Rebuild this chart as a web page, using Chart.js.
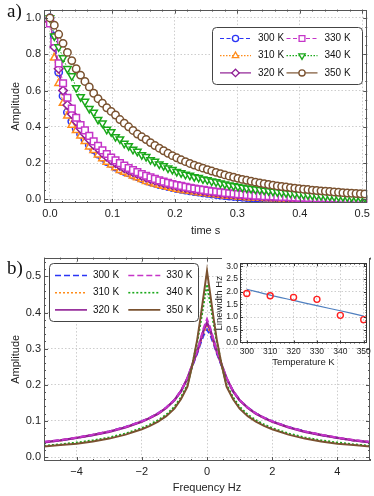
<!DOCTYPE html>
<html>
<head>
<meta charset="utf-8">
<script src="https://cdn.jsdelivr.net/npm/chart.js@4.4.1/dist/chart.umd.min.js"></script>
<style>
  html, body { margin: 0; padding: 0; background: #fff; overflow: hidden; }
  #wrap { position: relative; width: 374px; height: 496px; }
  canvas { position: absolute; }
  .tag { position: absolute; font-family: "Liberation Serif", "DejaVu Serif", serif; font-size: 19px; line-height: 1; color: #111; }
</style>
</head>
<body>
<div id="wrap">
  <canvas id="chartDecay" width="374" height="240" style="left:0;top:0"></canvas>
  <canvas id="chartSpectrum" width="374" height="248" style="left:0;top:248px"></canvas>
  <canvas id="chartLinewidth" width="166" height="116" style="left:208px;top:256px"></canvas>
  <div class="tag" style="left:7px;top:1px">a)</div>
  <div class="tag" style="left:7px;top:258px">b)</div>
</div>
<script>
// ---- panel a: time-domain decay ----
const times = [
  0, 0.007, 0.014, 0.021, 0.028, 0.035, 0.042, 0.049, 0.056, 0.063,
  0.07, 0.077, 0.084, 0.091, 0.098, 0.105, 0.112, 0.119, 0.126, 0.133,
  0.14, 0.147, 0.154, 0.161, 0.168, 0.175, 0.182, 0.189, 0.196, 0.203,
  0.21, 0.217, 0.224, 0.231, 0.238, 0.245, 0.252, 0.259, 0.266, 0.273,
  0.28, 0.287, 0.294, 0.301, 0.308, 0.315, 0.322, 0.329, 0.336, 0.343,
  0.35, 0.357, 0.364, 0.371, 0.378, 0.385, 0.392, 0.399, 0.406, 0.413,
  0.42, 0.427, 0.434, 0.441, 0.448, 0.455, 0.462, 0.469, 0.476, 0.483,
  0.49, 0.497, 0.504
];
const decay300 = [
  1.00, 0.90, 0.70, 0.57, 0.48, 0.43, 0.39, 0.36, 0.33, 0.30,
  0.275, 0.25, 0.232, 0.208, 0.197, 0.178, 0.166, 0.154, 0.146, 0.134,
  0.125, 0.115, 0.105, 0.096, 0.089, 0.082, 0.076, 0.070, 0.065, 0.060,
  0.055, 0.051, 0.047, 0.043, 0.040, 0.036, 0.033, 0.030, 0.027, 0.024,
  0.021, 0.018, 0.016, 0.014, 0.012, 0.010, 0.009, 0.008, 0.006, 0.005,
  0.004, 0.003, 0.003, 0.002, 0.002, 0.001, 0.001, 0.001, 0, 0,
  0, 0, 0, 0, 0, 0, 0, 0, 0, 0,
  0, 0, 0
];
const decay310 = [
  0.99, 0.78, 0.64, 0.53, 0.46, 0.41, 0.38, 0.35, 0.32, 0.29,
  0.27, 0.245, 0.225, 0.205, 0.19, 0.175, 0.16, 0.15, 0.14, 0.13,
  0.12, 0.11, 0.10, 0.093, 0.086, 0.079, 0.073, 0.067, 0.062, 0.057,
  0.053, 0.049, 0.045, 0.041, 0.038, 0.035, 0.032, 0.029, 0.026, 0.023,
  0.020, 0.018, 0.016, 0.014, 0.012, 0.010, 0.009, 0.008, 0.007, 0.006,
  0.005, 0.004, 0.004, 0.003, 0.003, 0.002, 0.002, 0.002, 0.001, 0.001,
  0.001, 0.001, 0, 0, 0, 0, 0, 0, 0, 0,
  0, 0, 0
];
const decay320 = [
  0.98, 0.84, 0.72, 0.60, 0.52, 0.47, 0.43, 0.39, 0.36, 0.33,
  0.30, 0.28, 0.255, 0.235, 0.215, 0.20, 0.185, 0.172, 0.16, 0.15,
  0.14, 0.13, 0.12, 0.112, 0.104, 0.097, 0.090, 0.084, 0.078, 0.073,
  0.068, 0.063, 0.059, 0.055, 0.051, 0.047, 0.044, 0.041, 0.038, 0.035,
  0.032, 0.030, 0.028, 0.026, 0.024, 0.022, 0.020, 0.019, 0.017, 0.016,
  0.015, 0.014, 0.013, 0.012, 0.011, 0.010, 0.009, 0.008, 0.008, 0.007,
  0.006, 0.006, 0.005, 0.004, 0.004, 0.003, 0.003, 0.002, 0.002, 0.002,
  0.001, 0.001, 0.001
];
const decay330 = [
  0.97, 0.87, 0.75, 0.64, 0.56, 0.50, 0.45, 0.41, 0.38, 0.35,
  0.32, 0.295, 0.27, 0.25, 0.23, 0.215, 0.20, 0.186, 0.173, 0.161,
  0.150, 0.140, 0.130, 0.121, 0.113, 0.105, 0.098, 0.091, 0.085, 0.079,
  0.074, 0.069, 0.064, 0.060, 0.056, 0.052, 0.048, 0.045, 0.042, 0.039,
  0.036, 0.034, 0.031, 0.029, 0.027, 0.025, 0.023, 0.021, 0.020, 0.018,
  0.017, 0.016, 0.015, 0.014, 0.013, 0.012, 0.011, 0.010, 0.009, 0.008,
  0.008, 0.007, 0.006, 0.006, 0.005, 0.005, 0.004, 0.004, 0.003, 0.003,
  0.003, 0.002, 0.002
];
const decay340 = [
  1.00, 0.90, 0.84, 0.78, 0.72, 0.68, 0.615, 0.565, 0.54, 0.50,
  0.48, 0.44, 0.42, 0.385, 0.372, 0.345, 0.332, 0.308, 0.295, 0.275,
  0.264, 0.245, 0.235, 0.218, 0.209, 0.194, 0.185, 0.172, 0.164, 0.153,
  0.146, 0.137, 0.132, 0.124, 0.120, 0.112, 0.108, 0.100, 0.096, 0.089,
  0.084, 0.079, 0.074, 0.070, 0.066, 0.062, 0.059, 0.056, 0.053, 0.050,
  0.047, 0.044, 0.041, 0.039, 0.036, 0.034, 0.031, 0.029, 0.027, 0.025,
  0.023, 0.021, 0.020, 0.018, 0.017, 0.016, 0.015, 0.014, 0.013, 0.012,
  0.011, 0.010, 0.009
];
const decay350 = [
  1.00, 0.96, 0.91, 0.86, 0.81, 0.765, 0.72, 0.685, 0.65, 0.62,
  0.585, 0.555, 0.53, 0.505, 0.485, 0.465, 0.44, 0.42, 0.40, 0.38,
  0.36, 0.345, 0.33, 0.313, 0.297, 0.282, 0.268, 0.254, 0.241, 0.229,
  0.218, 0.208, 0.198, 0.189, 0.180, 0.172, 0.164, 0.156, 0.149, 0.142,
  0.135, 0.128, 0.122, 0.116, 0.110, 0.105, 0.100, 0.095, 0.090, 0.086,
  0.082, 0.078, 0.074, 0.071, 0.068, 0.065, 0.062, 0.059, 0.056, 0.054,
  0.051, 0.049, 0.047, 0.045, 0.043, 0.041, 0.039, 0.037, 0.035, 0.034,
  0.032, 0.031, 0.030
];

// ---- panel b: spectra ----
const freqs = [-5, -4.5, -4, -3.5, -3, -2.5, -2, -1.75, -1.5, -1.25, -1, -0.8, -0.6, -0.45, -0.3, -0.2, -0.1,
  0, 0.1, 0.2, 0.3, 0.45, 0.6, 0.8, 1, 1.25, 1.5, 1.75, 2, 2.5, 3, 3.5, 4, 4.5, 5];
const freqTicks = [-4, -2, 0, 2, 4];
const spec300 = [0.041, 0.046, 0.053, 0.061, 0.071, 0.083, 0.099, 0.109, 0.121, 0.137, 0.158, 0.183, 0.217, 0.252, 0.287, 0.314, 0.338,
  0.353, 0.338, 0.314, 0.287, 0.252, 0.217, 0.183, 0.158, 0.137, 0.121, 0.109, 0.099, 0.083, 0.071, 0.061, 0.053, 0.046, 0.041];
const spec310 = [0.041, 0.046, 0.053, 0.061, 0.070, 0.082, 0.098, 0.108, 0.120, 0.136, 0.157, 0.182, 0.218, 0.254, 0.290, 0.318, 0.345,
  0.362, 0.345, 0.318, 0.290, 0.254, 0.218, 0.182, 0.157, 0.136, 0.120, 0.108, 0.098, 0.082, 0.070, 0.061, 0.053, 0.046, 0.041];
const spec320 = [0.041, 0.046, 0.053, 0.061, 0.070, 0.082, 0.098, 0.108, 0.120, 0.136, 0.157, 0.182, 0.218, 0.255, 0.292, 0.322, 0.352,
  0.372, 0.352, 0.322, 0.292, 0.255, 0.218, 0.182, 0.157, 0.136, 0.120, 0.108, 0.098, 0.082, 0.070, 0.061, 0.053, 0.046, 0.041];
const spec330 = [0.042, 0.047, 0.054, 0.062, 0.071, 0.083, 0.099, 0.109, 0.121, 0.137, 0.158, 0.183, 0.219, 0.256, 0.294, 0.326, 0.358,
  0.382, 0.358, 0.326, 0.294, 0.256, 0.219, 0.183, 0.158, 0.137, 0.121, 0.109, 0.099, 0.083, 0.071, 0.062, 0.054, 0.047, 0.042];
const spec340 = [0.031, 0.035, 0.040, 0.046, 0.054, 0.065, 0.080, 0.090, 0.102, 0.117, 0.139, 0.165, 0.200, 0.255, 0.318, 0.370, 0.425,
  0.478, 0.425, 0.370, 0.318, 0.255, 0.200, 0.165, 0.139, 0.117, 0.102, 0.090, 0.080, 0.065, 0.054, 0.046, 0.040, 0.035, 0.031];
const spec350 = [0.029, 0.033, 0.037, 0.043, 0.051, 0.062, 0.077, 0.086, 0.098, 0.113, 0.134, 0.160, 0.195, 0.255, 0.325, 0.385, 0.450,
  0.515, 0.450, 0.385, 0.325, 0.255, 0.195, 0.160, 0.134, 0.113, 0.098, 0.086, 0.077, 0.062, 0.051, 0.043, 0.037, 0.033, 0.029];

// ---- inset: linewidth vs temperature ----
const temps = [300, 310, 320, 330, 340, 350];
const linewidths = [1.93, 1.84, 1.78, 1.70, 1.07, 0.90];
const linewidthFit = [2.10, 1.87, 1.66, 1.45, 1.25, 1.04];

const labels = ['300 K', '310 K', '320 K', '330 K', '340 K', '350 K'];
const colors = ['#2b35f5', '#ff8c1a', '#8e1d93', '#c535c8', '#1aa81a', '#7a5230'];

const FONT = '"Liberation Sans", Arial, sans-serif';
const pts = (xs, ys) => xs.map((x, i) => ({ x: x, y: ys[i] }));
const fmt1 = v => (Math.abs(v) < 1e-9 ? 0 : v).toFixed(1);
const fmtInt = v => (Math.abs(v) < 1e-9 ? '0' : (v < 0 ? '\u2212' + Math.abs(v) : String(v)));

// inner frame ticks like a framed plot
const frameTicks = {
  id: 'frameTicks',
  afterDatasetsDraw(chart, args, o) {
    const { ctx, chartArea: a, scales } = chart;
    ctx.save();
    ctx.strokeStyle = o.color;
    ctx.lineWidth = 1;
    const marks = (scale, step, major, horiz) => {
      const first = Math.ceil(scale.min / step - 1e-9);
      for (let k = first; k * step <= scale.max + 1e-9; k++) {
        const v = k * step;
        const isMajor = Math.abs(v / major - Math.round(v / major)) < 1e-6;
        const len = isMajor ? o.major : o.minor;
        const p = Math.round(scale.getPixelForValue(v)) + 0.5;
        ctx.beginPath();
        if (horiz) {
          ctx.moveTo(p, a.bottom); ctx.lineTo(p, a.bottom - len);
          ctx.moveTo(p, a.top); ctx.lineTo(p, a.top + len);
        } else {
          ctx.moveTo(a.left, p); ctx.lineTo(a.left + len, p);
          ctx.moveTo(a.right, p); ctx.lineTo(a.right - len, p);
        }
        ctx.stroke();
      }
    };
    marks(scales.x, o.xMinor, o.xMajor, true);
    marks(scales.y, o.yMinor, o.yMajor, false);
    ctx.strokeRect(Math.round(a.left) + 0.5, Math.round(a.top) + 0.5,
      Math.round(a.right - a.left) - 1, Math.round(a.bottom - a.top) - 1);
    ctx.restore();
  }
};

// two-column framed legend
const boxLegend = {
  id: 'boxLegend',
  afterDraw(chart, args, o) {
    if (!o || !o.w) return;
    const ctx = chart.ctx;
    ctx.save();
    ctx.beginPath();
    if (ctx.roundRect) ctx.roundRect(o.x + 0.5, o.y + 0.5, o.w, o.h, 4);
    else ctx.rect(o.x + 0.5, o.y + 0.5, o.w, o.h);
    ctx.fillStyle = '#fff';
    ctx.fill();
    ctx.lineWidth = 1;
    ctx.strokeStyle = '#444';
    ctx.stroke();
    chart.data.datasets.forEach((ds, i) => {
      const col = Math.floor(i / o.rows), row = i % o.rows;
      const x0 = o.x + o.padX + col * o.colW;
      const y = o.y + o.padY + row * o.rowH;
      ctx.setLineDash(ds.borderDash || []);
      ctx.strokeStyle = ds.borderColor;
      ctx.lineWidth = o.lineWidth || ds.borderWidth;
      ctx.beginPath();
      ctx.moveTo(x0, y);
      ctx.lineTo(x0 + o.lineW, y);
      ctx.stroke();
      ctx.setLineDash([]);
      if (o.markers && Chart.helpers && Chart.helpers.drawPoint) {
        ctx.fillStyle = '#fff';
        ctx.strokeStyle = ds.borderColor;
        ctx.lineWidth = 1.3;
        Chart.helpers.drawPoint(ctx, {
          pointStyle: ds.pointStyle, radius: ds.pointRadius - 0.6,
          rotation: ds.pointRotation || 0, borderWidth: 1.3
        }, x0 + o.lineW / 2, y);
      }
      ctx.fillStyle = '#111';
      ctx.font = o.font;
      ctx.textBaseline = 'middle';
      ctx.textAlign = 'left';
      ctx.fillText(ds.label, x0 + o.lineW + o.gap, y);
    });
    ctx.restore();
  }
};

// white backing for the inset
const insetBg = {
  id: 'insetBg',
  beforeDraw(chart, args, o) {
    const { ctx, chartArea: a } = chart;
    ctx.save();
    ctx.fillStyle = '#fff';
    ctx.fillRect(o.left, 0, a.right + 2 - o.left, a.bottom + 1);
    ctx.restore();
  }
};

function axisStyle(size, step, pad, cb) {
  return {
    ticks: { stepSize: step, includeBounds: false, padding: pad, maxRotation: 0, autoSkip: false,
      color: '#222', font: { family: FONT, size: size }, callback: cb },
    grid: { color: '#cdcdcd', lineWidth: 1, drawTicks: false },
    border: { display: false, dash: [1.5, 2] }
  };
}

// ---- chart a ----
const decaySets = [decay300, decay310, decay320, decay330, decay340, decay350];
const markerStyle = ['circle', 'triangle', 'rectRot', 'rect', 'triangle', 'circle'];
const markerRot = [0, 0, 0, 0, 180, 0];
const markerSize = [3.7, 4.3, 4.3, 4.7, 4.3, 3.7];
const dashA = [[4, 2.5], [1.5, 1.5], [], [4, 2.5], [1.5, 1.5], []];

new Chart(document.getElementById('chartDecay'), {
  type: 'line',
  data: {
    datasets: decaySets.map((vals, i) => ({
      label: labels[i],
      data: pts(times, vals),
      borderColor: colors[i],
      borderWidth: 1,
      borderDash: dashA[i],
      pointStyle: markerStyle[i],
      pointRotation: markerRot[i],
      pointRadius: markerSize[i],
      pointBorderWidth: 1.5,
      pointBackgroundColor: '#fff',
      pointBorderColor: colors[i],
      tension: 0,
      order: 6 - i
    }))
  },
  options: {
    responsive: false,
    animation: false,
    devicePixelRatio: 1,
    layout: { padding: { left: 0, right: 2, top: 2, bottom: 0 } },
    plugins: {
      legend: { display: false },
      tooltip: { enabled: false },
      frameTicks: { color: '#555', major: 4, minor: 2, xMinor: 0.02, xMajor: 0.1, yMinor: 0.05, yMajor: 0.2 },
      boxLegend: { x: 212, y: 27, w: 150, h: 57, rows: 3, padX: 8, padY: 11.5, colW: 66.5, rowH: 17.2,
        lineW: 31, gap: 7, markers: true, lineWidth: 1.2, font: '10px ' + FONT }
    },
    scales: {
      x: Object.assign(axisStyle(11, 0.1, 4, fmt1), {
        type: 'linear', min: -0.0095, max: 0.508,
        afterFit: s => { s.height = 37; },
        title: { display: true, text: 'time s', color: '#222', font: { family: FONT, size: 11 }, padding: { top: 0, bottom: 2 } }
      }),
      y: Object.assign(axisStyle(11, 0.2, 3, fmt1), {
        min: -0.02, max: 1.046,
        afterFit: s => { s.width = 44; },
        title: { display: true, text: 'Amplitude', color: '#222', font: { family: FONT, size: 11 }, padding: { top: 9, bottom: 0 } }
      })
    }
  },
  plugins: [frameTicks, boxLegend]
});

// ---- chart b ----
const specSets = [spec300, spec310, spec320, spec330, spec340, spec350];
const dashB = [[6, 3], [2, 2], [], [6, 3], [2, 2], []];

new Chart(document.getElementById('chartSpectrum'), {
  type: 'line',
  data: {
    datasets: specSets.map((vals, i) => ({
      label: labels[i],
      data: pts(freqs, vals),
      borderColor: colors[i],
      borderWidth: i === 2 ? 2.4 : 2,
      borderDash: dashB[i],
      pointRadius: 0,
      tension: 0,
      order: 6 - i
    }))
  },
  options: {
    responsive: false,
    animation: false,
    devicePixelRatio: 1,
    layout: { padding: { left: 0, right: 4, top: 9, bottom: 0 } },
    plugins: {
      legend: { display: false },
      tooltip: { enabled: false },
      frameTicks: { color: '#555', major: 4, minor: 2, xMinor: 0.5, xMajor: 2, yMinor: 0.02, yMajor: 0.1 },
      boxLegend: { x: 49, y: 15, w: 149, h: 58, rows: 3, padX: 6, padY: 12.5, colW: 73.3, rowH: 17.2,
        lineW: 32, gap: 6, markers: false, lineWidth: 1.6, font: '10px ' + FONT }
    },
    scales: {
      x: Object.assign(axisStyle(11, 2, 4, fmtInt), {
        type: 'linear', min: -5, max: 5,
        afterBuildTicks: s => { s.ticks = freqTicks.map(v => ({ value: v })); },
        afterFit: s => { s.height = 35; },
        title: { display: true, text: 'Frequency Hz', color: '#222', font: { family: FONT, size: 11 }, padding: { top: 0, bottom: 1 } }
      }),
      y: Object.assign(axisStyle(11, 0.1, 3, fmt1), {
        min: -0.011, max: 0.552,
        afterFit: s => { s.width = 44; },
        title: { display: true, text: 'Amplitude', color: '#222', font: { family: FONT, size: 11 }, padding: { top: 9, bottom: 0 } }
      })
    }
  },
  plugins: [frameTicks, boxLegend]
});

// ---- inset ----
new Chart(document.getElementById('chartLinewidth'), {
  type: 'line',
  data: {
    datasets: [{
      label: 'Linewidth',
      data: pts(temps, linewidths),
      showLine: false,
      pointStyle: 'circle',
      pointRadius: 3,
      pointBorderWidth: 1.4,
      pointBorderColor: '#ff2020',
      pointBackgroundColor: 'rgba(255,255,255,0)',
      order: 1
    }, {
      label: 'Fit',
      data: pts(temps, linewidthFit),
      borderColor: '#4f7fbf',
      borderWidth: 1.2,
      pointRadius: 0,
      tension: 0.3,
      order: 2
    }]
  },
  options: {
    responsive: false,
    animation: false,
    devicePixelRatio: 1,
    layout: { padding: { left: 0, right: 7, top: 6, bottom: 0 } },
    plugins: {
      legend: { display: false },
      tooltip: { enabled: false },
      insetBg: { left: 14 },
      frameTicks: { color: '#333', major: 3, minor: 1.5, xMinor: 2, xMajor: 10, yMinor: 0.1, yMajor: 0.5 }
    },
    scales: {
      x: {
        type: 'linear', min: 297.1, max: 351.4,
        afterFit: s => { s.height = 28.5; },
        ticks: { stepSize: 10, includeBounds: false, padding: 3, maxRotation: 0, autoSkip: false,
          color: '#222', font: { family: FONT, size: 8.5 }, callback: v => String(v) },
        grid: { color: '#cdcdcd', drawTicks: false },
        border: { display: false, dash: [1.5, 2] },
        title: { display: true, text: 'Temperature K', color: '#222', font: { family: FONT, size: 9.5 }, padding: { top: 0, bottom: 4 } }
      },
      y: {
        min: -0.04, max: 3.13,
        afterFit: s => { s.width = 32; },
        ticks: { stepSize: 0.5, includeBounds: false, padding: 2, color: '#222', font: { family: FONT, size: 8.5 },
          callback: fmt1 },
        grid: { color: '#cdcdcd', drawTicks: false },
        border: { display: false, dash: [1.5, 2] },
        title: { display: true, text: 'Linewidth Hz', color: '#222', font: { family: FONT, size: 9.5 }, padding: { top: 6, bottom: 0 } }
      }
    }
  },
  plugins: [insetBg, frameTicks]
});
</script>
</body>
</html>
